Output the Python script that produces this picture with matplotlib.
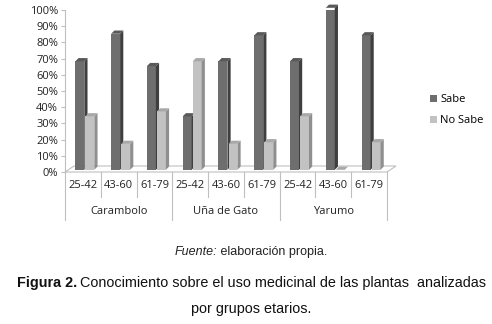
import matplotlib
matplotlib.use("Agg")
import matplotlib.pyplot as plt
from matplotlib.patches import Polygon
import numpy as np

groups = ["Carambolo", "Uña de Gato", "Yarumo"]
ages = ["25-42", "43-60", "61-79"]
sabe = [67, 84, 64, 33, 67, 83, 67, 100, 83]
no_sabe = [33, 16, 36, 67, 16, 17, 33, 0, 17]
series_names = ["Sabe", "No Sabe"]
yticks = [0, 10, 20, 30, 40, 50, 60, 70, 80, 90, 100]

W, H = 492, 324
fig = plt.figure(figsize=(W / 100, H / 100), dpi=100)
ax = fig.add_axes([65 / W, 1 - 172 / H, (387 - 65) / W, (172 - 10) / H])
ax.set_xlim(0, 9)
ax.set_ylim(0, 100)
for s in ["top", "right", "bottom"]:
    ax.spines[s].set_visible(False)
ax.spines["left"].set_color("#bfbfbf")
ax.spines["left"].set_bounds(0, 100)
ax.set_xticks([])
ax.set_yticks(yticks)
ax.set_yticklabels([f"{t}%" for t in yticks], fontsize=8, family="Open Sans", color="#222222")
ax.tick_params(axis="y", length=3, color="#bfbfbf", pad=2)

# px -> data conversions
px_x = 9 / (387 - 65)
px_y = 100 / (172 - 10)

# floor
fdx, fdy = 9 * px_x, 6 * px_y
floor = Polygon([(0, 0), (9, 0), (9 + fdx, fdy), (fdx, fdy)], closed=True,
                facecolor="white", edgecolor="#bfbfbf", lw=0.8, zorder=1, clip_on=False)
ax.add_patch(floor)

bw = 0.25
ddx, ddy = 3.2 * px_x, 3.2 * px_y
base = 2.2 * px_y
cols = [("#6e6e6e", "#3f3f3f", "#595959"), ("#c2c2c2", "#8f8f8f", "#a8a8a8")]
offsets = [0.29, 0.57]
x = np.arange(9)
for vals, off, (fc, sc, tc), name in zip([sabe, no_sabe], offsets, cols, series_names):
    ax.bar(x + off, [v for v in vals], width=bw, bottom=base, align="edge",
           color=fc, edgecolor="none", zorder=3, label=name)
    for xi, v in zip(x, vals):
        x0 = xi + off
        x1 = x0 + bw
        top = base + v
        side = Polygon([(x1, base), (x1 + ddx, base + ddy), (x1 + ddx, top + ddy), (x1, top)],
                       closed=True, facecolor=sc, edgecolor="none", zorder=3, clip_on=False)
        topp = Polygon([(x0, top), (x0 + ddx, top + ddy), (x1 + ddx, top + ddy), (x1, top)],
                       closed=True, facecolor=tc, edgecolor="none", zorder=3, clip_on=False)
        ax.add_patch(side)
        ax.add_patch(topp)

# category axis (two levels)
trans = ax.get_xaxis_transform()
y_row1 = -(197 - 172) / (172 - 10)
y_row2 = -(220 - 172) / (172 - 10)
for i in range(10):
    yb = y_row2 if i % 3 == 0 else y_row1
    ax.plot([i, i], [0, yb], transform=trans, color="#bfbfbf", lw=0.8, clip_on=False)
for i in range(9):
    ax.text(i + 0.5, -(185 - 172) / (172 - 10), ages[i % 3], transform=trans,
            ha="center", va="center", fontsize=8, family="Open Sans", color="#222222")
for g, name in enumerate(groups):
    ax.text(g * 3 + 1.5, -(212 - 172) / (172 - 10), name, transform=trans,
            ha="center", va="center", fontsize=8, family="Open Sans", color="#222222")

leg = fig.legend(loc="upper left", bbox_to_anchor=(420 / W, 1 - 84 / H), frameon=False,
                 prop={"family": "Open Sans", "size": 8}, handlelength=0.6, handleheight=0.6,
                 handletextpad=0.3, labelspacing=0.9)

fig.canvas.draw()
r = fig.canvas.get_renderer()

# source line (centered)
t1 = fig.text(0, 1 - 252 / H, "Fuente:", fontsize=9, style="italic",
              family="Liberation Sans", va="center", color="#222222")
t1b = fig.text(0, 1 - 252 / H, " elaboración propia.", fontsize=9,
               family="Liberation Sans", va="center", color="#222222")
w1 = t1.get_window_extent(r).width
w1b = t1b.get_window_extent(r).width
start = 251 - (w1 + w1b) / 2
t1.set_x(start / W)
t1b.set_x((start + w1) / W)

t2 = fig.text(17 / W, 1 - 283 / H, "Figura 2.", fontsize=10.4, weight="bold",
              family="Liberation Sans", va="center", color="#111111")
fig.canvas.draw()
bb2 = t2.get_window_extent(r)
fig.text(bb2.x1 / W + 3 / W, 1 - 283 / H,
         "Conocimiento sobre el uso medicinal de las plantas  analizadas",
         fontsize=10.4, family="Liberation Sans", va="center", color="#111111")
fig.text(251 / W, 1 - 309 / H, "por grupos etarios.", fontsize=10.4, ha="center",
         family="Liberation Sans", va="center", color="#111111")

fig.savefig("out.png", dpi=100)
